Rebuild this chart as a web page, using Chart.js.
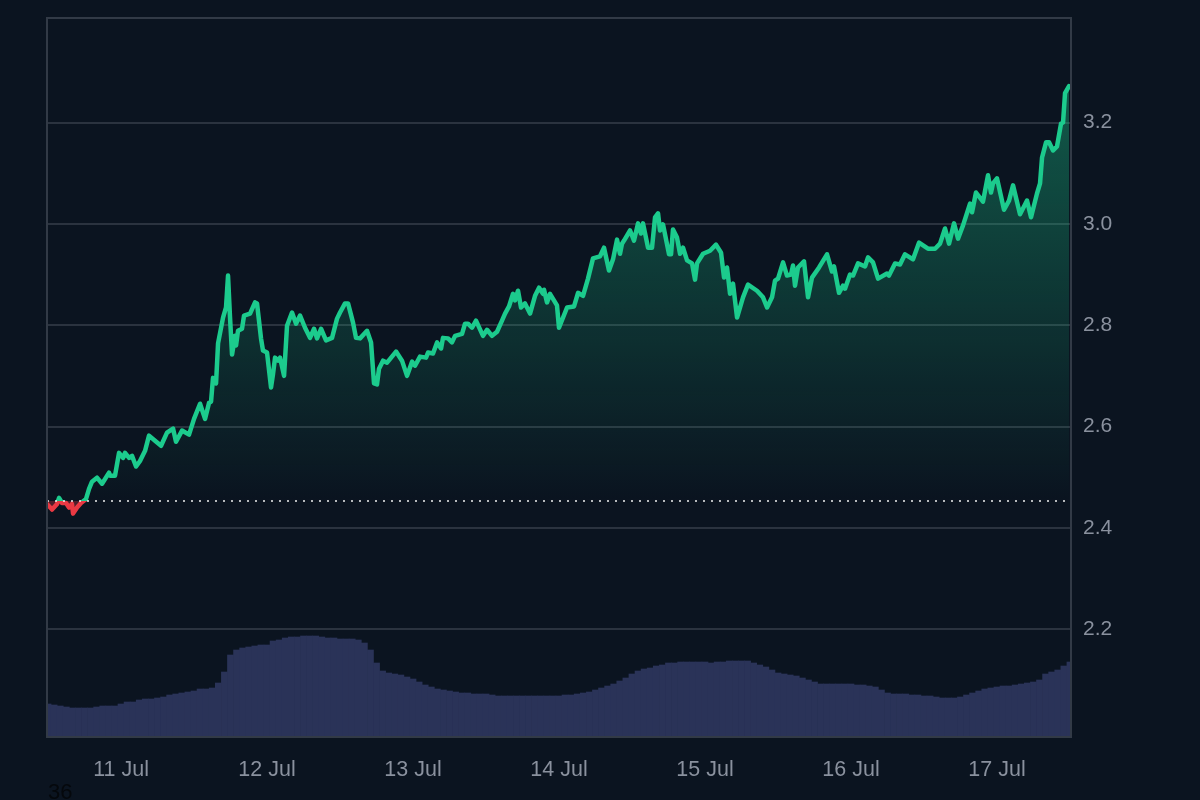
<!DOCTYPE html>
<html>
<head>
<meta charset="utf-8">
<title>Price chart</title>
<script src="https://cdn.jsdelivr.net/npm/chart.js@4"></script>
<style>
  html, body { margin: 0; padding: 0; width: 1200px; height: 800px; overflow: hidden; background: #0b1420; }
  #chart { position: absolute; left: 0; top: 0; }
  #stray { position: absolute; left: 48px; top: 779px; font: 22px "Liberation Sans", Arial, sans-serif; color: #05080c; }
</style>
</head>
<body>
<canvas id="chart" width="1200" height="800"></canvas>
<div id="stray">36</div>
<script>
// hours since 11 Jul 00:00
const hours = [
  -12.17, -11.34, -10.52, -10.19, -9.7, -9.04, -8.55, -8.06, -7.89, -7.23, -6.58, -5.75, -5.26, -4.77, -3.95, -3.12,
  -1.97, -1.81, -0.99, -0.33, 0.33, 0.66, 1.32, 1.81, 2.47, 3.12, 3.95, 4.6, 5.59, 6.58, 7.56, 8.55, 9.04, 10.03,
  11.18, 12, 12.99, 13.81, 14.47, 14.8, 15.12, 15.62, 15.95, 16.77, 17.26, 17.59, 17.92, 18.25, 18.74, 18.91, 19.23,
  19.89, 20.22, 21.21, 22.03, 22.36, 23.01, 23.34, 24, 24.66, 24.99, 25.32, 25.81, 26.14, 26.8, 27.29, 28.11, 28.77,
  29.43, 30.25, 31.07, 31.73, 32.22, 32.88, 33.7, 34.69, 35.51, 36, 36.82, 37.32, 38.14, 38.63, 39.29, 40.44, 41.1,
  41.59, 42.08, 42.41, 43.07, 43.73, 45.21, 46.19, 47.02, 47.84, 48.33, 49.15, 50.14, 50.47, 51.29, 51.95, 52.61,
  52.93, 53.76, 54.41, 54.91, 56.06, 56.55, 57.04, 57.7, 58.36, 59.51, 60.17, 60.99, 61.81, 62.63, 63.13, 63.78,
  64.44, 64.77, 65.26, 65.76, 66.41, 67.24, 68.06, 68.72, 69.37, 69.54, 70.03, 70.52, 71.67, 72, 73.32, 74.47, 75.13,
  75.95, 76.77, 77.59, 78.74, 79.4, 80.22, 80.88, 81.54, 82.03, 82.36, 82.69, 83.68, 84.33, 84.99, 85.48, 85.81,
  86.64, 87.29, 87.79, 88.28, 88.61, 89.1, 90.09, 90.42, 90.74, 91.4, 91.9, 92.39, 93.05, 93.87, 94.36, 94.69, 95.68,
  96.83, 97.81, 98.64, 99.13, 99.62, 100.12, 100.61, 101.27, 102.25, 103.07, 104.55, 105.54, 106.2, 107.02, 107.51,
  108.01, 108.83, 109.48, 110.14, 110.47, 110.8, 111.29, 112.28, 112.94, 113.59, 114.75, 116.06, 116.88, 117.21,
  118.03, 118.69, 119.02, 119.84, 120.34, 121.16, 122.31, 122.8, 123.62, 124.45, 125.92, 126.25, 127.24, 128.06,
  128.88, 130.2, 131.18, 132.66, 133.82, 134.64, 135.46, 136.12, 136.94, 137.6, 138.42, 139.57, 139.9, 140.55,
  141.7, 142.53, 143.02, 143.35, 144, 145.16, 145.98, 146.64, 147.79, 148.94, 149.6, 150.58, 151.08, 151.41, 152.07,
  152.56, 153.22, 153.87, 154.53, 154.86, 155.19, 155.85
];
const price = [
  2.447, 2.436, 2.447, 2.459, 2.449, 2.449, 2.44, 2.447, 2.428, 2.44, 2.449, 2.457, 2.477, 2.491, 2.499, 2.487,
  2.509, 2.503, 2.503, 2.548, 2.538, 2.548, 2.538, 2.542, 2.521, 2.532, 2.552, 2.582, 2.572, 2.562, 2.588, 2.596, 2.57, 2.592,
  2.584, 2.615, 2.645, 2.615, 2.647, 2.649, 2.696, 2.685, 2.764, 2.815, 2.835, 2.898, 2.815, 2.742, 2.779, 2.76, 2.789,
  2.793, 2.819, 2.823, 2.845, 2.843, 2.774, 2.75, 2.746, 2.677, 2.704, 2.736, 2.73, 2.736, 2.7, 2.799, 2.825, 2.803,
  2.819, 2.795, 2.775, 2.793, 2.774, 2.793, 2.77, 2.775, 2.813, 2.825, 2.843, 2.843, 2.805, 2.775, 2.774, 2.789, 2.766,
  2.685, 2.683, 2.714, 2.73, 2.726, 2.748, 2.73, 2.7, 2.728, 2.72, 2.738, 2.736, 2.746, 2.744, 2.766, 2.754,
  2.775, 2.774, 2.766, 2.779, 2.783, 2.803, 2.803, 2.795, 2.809, 2.779, 2.791, 2.779, 2.787, 2.809, 2.823, 2.837,
  2.862, 2.849, 2.868, 2.835, 2.843, 2.823, 2.858, 2.874, 2.862, 2.87, 2.845, 2.862, 2.839, 2.795, 2.835, 2.837, 2.864,
  2.858, 2.892, 2.932, 2.936, 2.953, 2.908, 2.93, 2.969, 2.941, 2.961, 2.967, 2.987, 2.967, 3.001, 2.981, 3.001,
  2.953, 2.953, 3.013, 3.021, 2.987, 2.999, 2.94, 2.94, 2.989, 2.973, 2.941, 2.953, 2.928, 2.922, 2.89, 2.922, 2.941,
  2.947, 2.959, 2.943, 2.894, 2.914, 2.862, 2.882, 2.815, 2.855, 2.88, 2.868, 2.855, 2.835, 2.855, 2.888,
  2.892, 2.924, 2.898, 2.9, 2.918, 2.878, 2.914, 2.926, 2.855, 2.894, 2.914, 2.94, 2.906, 2.916,
  2.864, 2.878, 2.872, 2.9, 2.898, 2.922, 2.916, 2.934, 2.924, 2.892, 2.902, 2.898, 2.922, 2.92,
  2.94, 2.93, 2.963, 2.951, 2.951, 2.961, 2.991, 2.961, 3.001, 2.971, 2.997, 3.04, 3.023, 3.062,
  3.044, 3.096, 3.062, 3.08, 3.09, 3.028, 3.046, 3.076, 3.019, 3.046, 3.013, 3.06, 3.08, 3.131, 3.161,
  3.161, 3.145, 3.153, 3.198, 3.2, 3.258, 3.272
];

// one bar per hour, first bar at hour -12
const volumeStartHour = -12;
const volume = [
  0.33, 0.32, 0.31, 0.3, 0.29, 0.29, 0.29, 0.29, 0.3, 0.31, 0.31, 0.31,
  0.33, 0.35, 0.35, 0.37, 0.38, 0.38, 0.39, 0.4, 0.42, 0.43, 0.44, 0.45,
  0.46, 0.48, 0.48, 0.49, 0.54, 0.65, 0.82, 0.87, 0.89, 0.9, 0.91, 0.92,
  0.92, 0.96, 0.97, 0.99, 1.0, 1.0, 1.01, 1.01, 1.01, 1.0, 0.99, 0.99,
  0.98, 0.98, 0.98, 0.97, 0.94, 0.87, 0.74, 0.66, 0.64, 0.63, 0.62, 0.6,
  0.58, 0.55, 0.52, 0.5, 0.48, 0.47, 0.46, 0.45, 0.44, 0.44, 0.43, 0.43,
  0.43, 0.42, 0.41, 0.41, 0.41, 0.41, 0.41, 0.41, 0.41, 0.41, 0.41, 0.41,
  0.41, 0.42, 0.42, 0.43, 0.44, 0.45, 0.47, 0.49, 0.51, 0.53, 0.56, 0.59,
  0.63, 0.66, 0.68, 0.69, 0.71, 0.72, 0.74, 0.74, 0.75, 0.75, 0.75, 0.75,
  0.75, 0.74, 0.75, 0.75, 0.76, 0.76, 0.76, 0.76, 0.74, 0.72, 0.7, 0.67,
  0.64, 0.63, 0.62, 0.61, 0.59, 0.57, 0.55, 0.53, 0.53, 0.53, 0.53, 0.53,
  0.53, 0.52, 0.52, 0.51, 0.5, 0.47, 0.44, 0.43, 0.43, 0.43, 0.42, 0.42,
  0.41, 0.41, 0.4, 0.39, 0.39, 0.39, 0.4, 0.42, 0.44, 0.46, 0.48, 0.49,
  0.5, 0.51, 0.51, 0.52, 0.53, 0.54, 0.55, 0.57, 0.63, 0.65, 0.67, 0.71, 0.75
];

const baselinePrice = 2.453;
const baselineHours = [-12.17, 156.17];

const yTicks = [2.2, 2.4, 2.6, 2.8, 3.0, 3.2];
const xTickHours = [0, 24, 48, 72, 96, 120, 144];
const xTickLabels = ["11 Jul", "12 Jul", "13 Jul", "14 Jul", "15 Jul", "16 Jul", "17 Jul"];

const GREEN = "#1ccb8d";
const RED = "#ea3943";
const GRID = "#2b333f";
const TICK = "#8a919e";

const pointsOf = (xs, ys) => xs.map((x, i) => ({ x: x, y: ys[i] }));

const frame = {
  id: "frame",
  afterDraw(chart) {
    const a = chart.chartArea;
    const c = chart.ctx;
    c.save();
    c.strokeStyle = "#323a46";
    c.lineWidth = 2;
    c.strokeRect(a.left, a.top, a.right - a.left, a.bottom - a.top);
    c.restore();
  },
};

const chart = new Chart(document.getElementById("chart"), {
  data: {
    datasets: [
      {
        type: "line",
        data: pointsOf(hours, price),
        borderColor: GREEN,
        borderWidth: 4.5,
        borderJoinStyle: "round",
        borderCapStyle: "round",
        pointRadius: 0,
        tension: 0,
        fill: { target: { value: baselinePrice }, above: "rgba(28,203,141,0.3)", below: "rgba(234,57,67,0.3)" },
        order: 1,
      },
      {
        type: "line",
        data: baselineHours.map((h) => ({ x: h, y: baselinePrice })),
        borderColor: "rgba(255,255,255,0.7)",
        borderWidth: 2,
        borderDash: [2, 6],
        pointRadius: 0,
        fill: false,
        order: 0,
      },
      {
        type: "bar",
        yAxisID: "vol",
        data: volume.map((v, i) => ({ x: volumeStartHour + i, y: v })),
        backgroundColor: "#2a3358",
        borderWidth: 0,
        barPercentage: 1,
        categoryPercentage: 1,
        grouped: false,
        order: 2,
      },
    ],
  },
  options: {
    responsive: false,
    animation: false,
    layout: { padding: { left: 47, top: 18, right: 0, bottom: 0 } },
    plugins: { legend: { display: false }, tooltip: { enabled: false } },
    scales: {
      x: {
        type: "linear",
        min: -12.17,
        max: 156.17,
        offset: false,
        grid: { display: false },
        border: { color: "#323a46", width: 2 },
        afterFit(s) { s.height = 63; },
        afterBuildTicks(s) { s.ticks = xTickHours.map((v) => ({ value: v })); },
        ticks: {
          autoSkip: false,
          maxRotation: 0,
          padding: 12,
          color: TICK,
          font: { family: "Liberation Sans", size: 21.5 },
          callback: (v) => xTickLabels[xTickHours.indexOf(v)],
        },
      },
      y: {
        type: "linear",
        position: "right",
        min: 1.987,
        max: 3.4065,
        grid: { color: GRID, lineWidth: 2, drawTicks: false },
        border: { color: "#323a46", width: 2 },
        // tick padding would otherwise push the plot top down
        afterFit(s) { s.width = 129; s.paddingTop = 0; s.paddingBottom = 0; },
        afterBuildTicks(s) { s.ticks = yTicks.map((v) => ({ value: v })); },
        ticks: {
          padding: 12,
          color: TICK,
          font: { family: "Liberation Sans", size: 21 },
          callback: (v) => v.toFixed(1),
        },
      },
      vol: { type: "linear", display: false, min: 0, max: 7.19 },
    },
  },
  plugins: [frame],
});

// gradients need the pixel of the baseline, so they go in once the scales exist
const y = chart.scales.y;
const basePx = y.getPixelForValue(baselinePrice);
const ctx = chart.ctx;

const stroke = ctx.createLinearGradient(0, chart.chartArea.top, 0, chart.chartArea.bottom);
const cut = (basePx - chart.chartArea.top) / (chart.chartArea.bottom - chart.chartArea.top);
stroke.addColorStop(0, GREEN);
stroke.addColorStop(cut, GREEN);
stroke.addColorStop(cut, RED);
stroke.addColorStop(1, RED);

const area = ctx.createLinearGradient(0, y.getPixelForValue(3.272), 0, basePx);
area.addColorStop(0, "rgba(28,203,141,0.38)");
area.addColorStop(1, "rgba(28,203,141,0)");

chart.data.datasets[0].borderColor = stroke;
chart.data.datasets[0].fill.above = area;
chart.update("none");
</script>
</body>
</html>
